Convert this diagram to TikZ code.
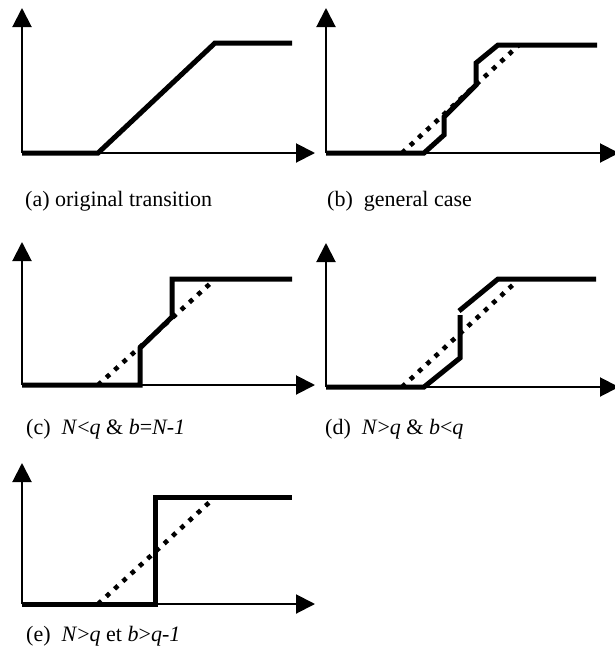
\documentclass[tikz,border=0pt]{standalone}
\usepackage{fontspec}
\setmainfont{Liberation Serif}
\usetikzlibrary{arrows.meta}
\begin{document}
\begin{tikzpicture}[x=1pt,y=-1pt,
  axisline/.style={line width=2pt,-{Triangle[length=19pt,width=19pt]}},
  curveline/.style={line width=5pt,line join=miter},
  rampline/.style={line width=4.6pt,dash pattern=on 4.6pt off 6.6pt},
  captext/.style={anchor=base west,inner sep=0pt,font=\fontsize{22}{26}\selectfont}]
\useasboundingbox (0,0) rectangle (615,651);

% ---------- (a) ----------
\coordinate (aO) at (22,153);
\coordinate (aY) at (22,8);
\coordinate (aX) at (315,153);
\draw[axisline] (aO) -- (aY);
\draw[axisline] (aO) -- (aX);
\draw[curveline] (aO) -- (98,153) -- (215,43) -- (292,43);
\node[captext] (capa) at (25,206) {(a) original transition};

% ---------- (b) ----------
\coordinate (bO) at (326,153);
\coordinate (bY) at (326,8);
\coordinate (bX) at (619,153);
\draw[axisline] (bO) -- (bY);
\draw[axisline] (bO) -- (bX);
\draw[rampline] (402,153) -- (519,45);
\draw[curveline] (bO) -- (424,153) -- (444,135) -- (444,117) -- (476,85) -- (476,63) -- (498,45) -- (597,45);
\node[captext] (capb) at (327,206) {(b)\ \ general case};

% ---------- (c) ----------
\coordinate (cO) at (22,385);
\coordinate (cY) at (22,242);
\coordinate (cX) at (315,385);
\draw[axisline] (cO) -- (cY);
\draw[axisline] (cO) -- (cX);
\draw[rampline] (98,385) -- (213,281);
\draw[curveline] (cO) -- (140,385) -- (140,348) -- (172,317) -- (172,279) -- (292,279);
\node[captext] (capc) at (26,434) {(c)\ \ \textit{N}<\textit{q} \& \textit{b}=\textit{N-1}};

% ---------- (d) ----------
\coordinate (dO) at (326,387);
\coordinate (dY) at (326,243);
\coordinate (dX) at (619,387);
\draw[axisline] (dO) -- (dY);
\draw[axisline] (dO) -- (dX);
\draw[rampline] (402,387) -- (517,281);
\draw[curveline] (dO) -- (424,387) -- (460,358) -- (460,315);
\draw[curveline] (459,311) -- (498,279) -- (596,279);
\node[captext] (capd) at (325,434) {(d)\ \ \textit{N}>\textit{q} \& \textit{b}<\textit{q}};

% ---------- (e) ----------
\coordinate (eO) at (22,604);
\coordinate (eY) at (22,463);
\coordinate (eX) at (315,604);
\draw[axisline] (eO) -- (eY);
\draw[axisline] (eO) -- (eX);
\draw[rampline] (98,604) -- (213,499);
\draw[curveline] (eO) -- (155,604) -- (155,497) -- (292,497);
\node[captext] (cape) at (26,641) {(e)\ \ \textit{N}>\textit{q} et \textit{b}>\textit{q-1}};
\end{tikzpicture}
\end{document}
